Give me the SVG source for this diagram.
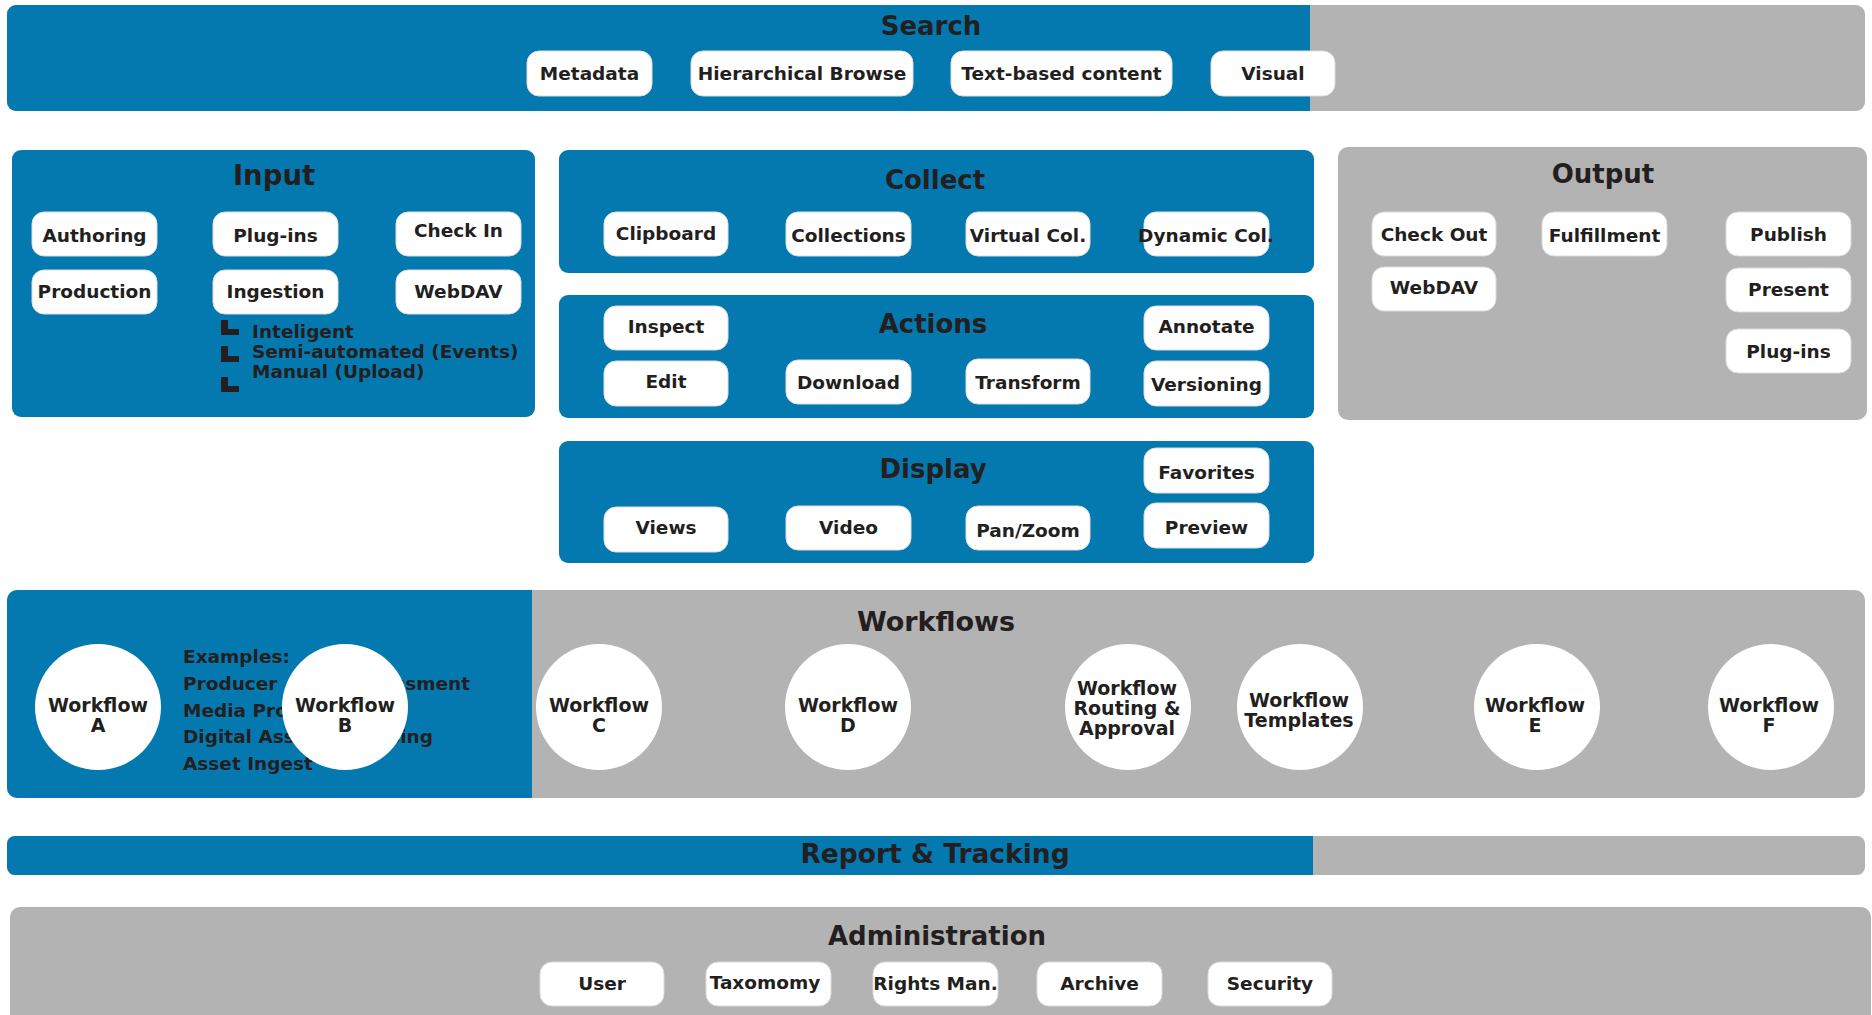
<svg xmlns="http://www.w3.org/2000/svg" width="1872" height="1015" viewBox="0 0 1872 1015">
<style>
.blue{fill:#0479b0}
.gray{fill:#b3b3b3}
.pill{fill:#fff;stroke:#dcdcdc;stroke-width:1}
.circ{fill:#fff}
text{font-family:"DejaVu Sans",Verdana,sans-serif;font-weight:bold;fill:#231f20;text-anchor:middle}
.title{font-size:26px}
.lbl{font-size:18.5px}
.wl{font-size:19px}
.left{text-anchor:start}
.end{text-anchor:end}
.mark{fill:#231f20}
</style>
<rect width="1872" height="1015" fill="#fff"/>

<g id="search">
<rect class="gray" x="7" y="5" width="1858" height="106" rx="9"/>
<path class="blue" d="M16 5H1310V111H16A9 9 0 0 1 7 102V14A9 9 0 0 1 16 5Z"/>
<text class="title" x="931" y="35">Search</text>
<g id="search-metadata"><rect class="pill" x="527" y="51" width="125" height="45" rx="12"/><text class="lbl" x="589.5" y="80">Metadata</text></g>
<g id="search-hier"><rect class="pill" x="691" y="51" width="222" height="45" rx="12"/><text class="lbl" x="802" y="80">Hierarchical Browse</text></g>
<g id="search-text"><rect class="pill" x="951" y="51" width="221" height="45" rx="12"/><text class="lbl" x="1061.5" y="80">Text-based content</text></g>
<g id="search-visual"><rect class="pill" x="1211" y="51" width="124" height="45" rx="12"/><text class="lbl" x="1273" y="80">Visual</text></g>
</g>

<g id="input">
<rect class="blue" x="12" y="150" width="523" height="267" rx="9"/>
<text class="title" x="274" y="185" style="font-size:27.5px">Input</text>
<g id="in-authoring"><rect class="pill" x="32" y="212" width="125" height="44" rx="12"/><text class="lbl" x="94.5" y="242">Authoring</text></g>
<g id="in-plugins"><rect class="pill" x="213" y="212" width="125" height="44" rx="12"/><text class="lbl" x="275.5" y="242">Plug-ins</text></g>
<g id="in-checkin"><rect class="pill" x="396" y="212" width="125" height="44" rx="12"/><text class="lbl" x="458.5" y="237">Check In</text></g>
<g id="in-production"><rect class="pill" x="32" y="270" width="125" height="44" rx="12"/><text class="lbl" x="94.5" y="298">Production</text></g>
<g id="in-ingestion"><rect class="pill" x="213" y="270" width="125" height="44" rx="12"/><text class="lbl" x="275.5" y="298">Ingestion</text></g>
<g id="in-webdav"><rect class="pill" x="396" y="270" width="125" height="44" rx="12"/><text class="lbl" x="458.5" y="298">WebDAV</text></g>
<path class="mark" d="M221 320h7v9h11v6h-18Z"/>
<path class="mark" d="M221 346h7v10h11v6h-18Z"/>
<path class="mark" d="M221 377h7v9h11v6h-18Z"/>
<text class="lbl left" x="252" y="338">Inteligent</text>
<text class="lbl left" x="252" y="358">Semi-automated (Events)</text>
<text class="lbl left" x="252" y="378">Manual (Upload)</text>
</g>

<g id="collect">
<rect class="blue" x="559" y="150" width="755" height="123" rx="9"/>
<text class="title" x="935" y="189">Collect</text>
<g id="c-clipboard"><rect class="pill" x="604" y="212" width="124" height="44" rx="12"/><text class="lbl" x="666" y="240">Clipboard</text></g>
<g id="c-collections"><rect class="pill" x="786" y="212" width="125" height="44" rx="12"/><text class="lbl" x="848.5" y="242">Collections</text></g>
<g id="c-virtual"><rect class="pill" x="966" y="212" width="124" height="44" rx="12"/><text class="lbl" x="1028" y="242">Virtual Col.</text></g>
<g id="c-dynamic"><rect class="pill" x="1144" y="212" width="125" height="44" rx="12"/><text class="lbl" x="1206" y="242">Dynamic Col.</text></g>
</g>

<g id="actions">
<rect class="blue" x="559" y="295" width="755" height="123" rx="9"/>
<text class="title" x="933" y="333">Actions</text>
<g id="a-inspect"><rect class="pill" x="604" y="306" width="124" height="44" rx="12"/><text class="lbl" x="666" y="333">Inspect</text></g>
<g id="a-annotate"><rect class="pill" x="1144" y="306" width="125" height="44" rx="12"/><text class="lbl" x="1206.5" y="333">Annotate</text></g>
<g id="a-edit"><rect class="pill" x="604" y="361" width="124" height="45" rx="12"/><text class="lbl" x="666" y="388">Edit</text></g>
<g id="a-download"><rect class="pill" x="786" y="360" width="125" height="44" rx="12"/><text class="lbl" x="848.5" y="389">Download</text></g>
<g id="a-transform"><rect class="pill" x="966" y="359" width="124" height="45" rx="12"/><text class="lbl" x="1028" y="389">Transform</text></g>
<g id="a-versioning"><rect class="pill" x="1144" y="361" width="125" height="45" rx="12"/><text class="lbl" x="1206.5" y="391">Versioning</text></g>
</g>

<g id="display">
<rect class="blue" x="559" y="441" width="755" height="122" rx="9"/>
<text class="title" x="933" y="478">Display</text>
<g id="d-favorites"><rect class="pill" x="1144" y="448" width="125" height="45" rx="12"/><text class="lbl" x="1206.5" y="479">Favorites</text></g>
<g id="d-preview"><rect class="pill" x="1144" y="503" width="125" height="45" rx="12"/><text class="lbl" x="1206.5" y="534">Preview</text></g>
<g id="d-views"><rect class="pill" x="604" y="507" width="124" height="45" rx="12"/><text class="lbl" x="666" y="534">Views</text></g>
<g id="d-video"><rect class="pill" x="786" y="506" width="125" height="44" rx="12"/><text class="lbl" x="848.5" y="534">Video</text></g>
<g id="d-panzoom"><rect class="pill" x="966" y="506" width="124" height="44" rx="12"/><text class="lbl" x="1028" y="537">Pan/Zoom</text></g>
</g>

<g id="output">
<rect class="gray" x="1338" y="147" width="529" height="273" rx="10"/>
<text class="title" x="1603" y="183">Output</text>
<g id="o-checkout"><rect class="pill" x="1372" y="212" width="124" height="44" rx="12"/><text class="lbl" x="1434" y="241">Check Out</text></g>
<g id="o-fulfillment"><rect class="pill" x="1542" y="212" width="125" height="44" rx="12"/><text class="lbl" x="1604.5" y="242">Fulfillment</text></g>
<g id="o-publish"><rect class="pill" x="1726" y="212" width="125" height="44" rx="12"/><text class="lbl" x="1788.5" y="241">Publish</text></g>
<g id="o-webdav"><rect class="pill" x="1372" y="267" width="124" height="44" rx="12"/><text class="lbl" x="1434" y="294">WebDAV</text></g>
<g id="o-present"><rect class="pill" x="1726" y="268" width="125" height="44" rx="12"/><text class="lbl" x="1788.5" y="296">Present</text></g>
<g id="o-plugins"><rect class="pill" x="1726" y="329" width="125" height="44" rx="12"/><text class="lbl" x="1788.5" y="358">Plug-ins</text></g>
</g>

<g id="workflows">
<rect class="gray" x="7" y="590" width="1858" height="208" rx="10"/>
<path class="blue" d="M17 590H532V798H17A10 10 0 0 1 7 788V600A10 10 0 0 1 17 590Z"/>
<text class="title" x="936" y="631" style="font-size:27px">Workflows</text>
<g id="examples">
<text class="lbl left" x="183" y="663">Examples:</text>
<text class="lbl left" x="183" y="690">Producer</text>
<text class="lbl end" x="470" y="690">ssment</text>
<text class="lbl left" x="183" y="717">Media Pro</text>
<text class="lbl left" x="183" y="743">Digital Ass</text>
<text class="lbl end" x="433" y="743">sing</text>
<text class="lbl left" x="183" y="770">Asset Ingest</text>
</g>
<g id="wf-a"><circle class="circ" cx="98" cy="707" r="63"/><text class="wl" x="98" y="712">Workflow</text><text class="wl" x="98" y="732">A</text></g>
<g id="wf-b"><circle class="circ" cx="345" cy="707" r="63"/><text class="wl" x="345" y="712">Workflow</text><text class="wl" x="345" y="732">B</text></g>
<g id="wf-c"><circle class="circ" cx="599" cy="707" r="63"/><text class="wl" x="599" y="712">Workflow</text><text class="wl" x="599" y="732">C</text></g>
<g id="wf-d"><circle class="circ" cx="848" cy="707" r="63"/><text class="wl" x="848" y="712">Workflow</text><text class="wl" x="848" y="732">D</text></g>
<g id="wf-routing"><circle class="circ" cx="1128" cy="707" r="63"/><text class="wl" x="1127" y="695">Workflow</text><text class="wl" x="1127" y="715">Routing &amp;</text><text class="wl" x="1127" y="735">Approval</text></g>
<g id="wf-templates"><circle class="circ" cx="1300" cy="707" r="63"/><text class="wl" x="1299" y="707">Workflow</text><text class="wl" x="1299" y="727">Templates</text></g>
<g id="wf-e"><circle class="circ" cx="1537" cy="707" r="63"/><text class="wl" x="1535" y="712">Workflow</text><text class="wl" x="1535" y="732">E</text></g>
<g id="wf-f"><circle class="circ" cx="1771" cy="707" r="63"/><text class="wl" x="1769" y="712">Workflow</text><text class="wl" x="1769" y="732">F</text></g>
</g>

<g id="report">
<rect class="gray" x="7" y="836" width="1858" height="39" rx="8"/>
<path class="blue" d="M15 836H1313V875H15A8 8 0 0 1 7 867V844A8 8 0 0 1 15 836Z"/>
<text class="title" x="935" y="863" style="font-size:26.5px">Report &amp; Tracking</text>
</g>

<g id="administration">
<rect class="gray" x="10" y="907" width="1861" height="130" rx="10"/>
<text class="title" x="937" y="945">Administration</text>
<g id="ad-user"><rect class="pill" x="540" y="962" width="124" height="44" rx="12"/><text class="lbl" x="602" y="990">User</text></g>
<g id="ad-taxomomy"><rect class="pill" x="706" y="962" width="125" height="44" rx="12"/><text class="lbl" x="765" y="989">Taxomomy</text></g>
<g id="ad-rights"><rect class="pill" x="873" y="962" width="125" height="44" rx="12"/><text class="lbl" x="935.5" y="990">Rights Man.</text></g>
<g id="ad-archive"><rect class="pill" x="1037" y="962" width="125" height="44" rx="12"/><text class="lbl" x="1099.5" y="990">Archive</text></g>
<g id="ad-security"><rect class="pill" x="1208" y="962" width="124" height="44" rx="12"/><text class="lbl" x="1270" y="990">Security</text></g>
</g>

<g id="connectors"></g>
</svg>
